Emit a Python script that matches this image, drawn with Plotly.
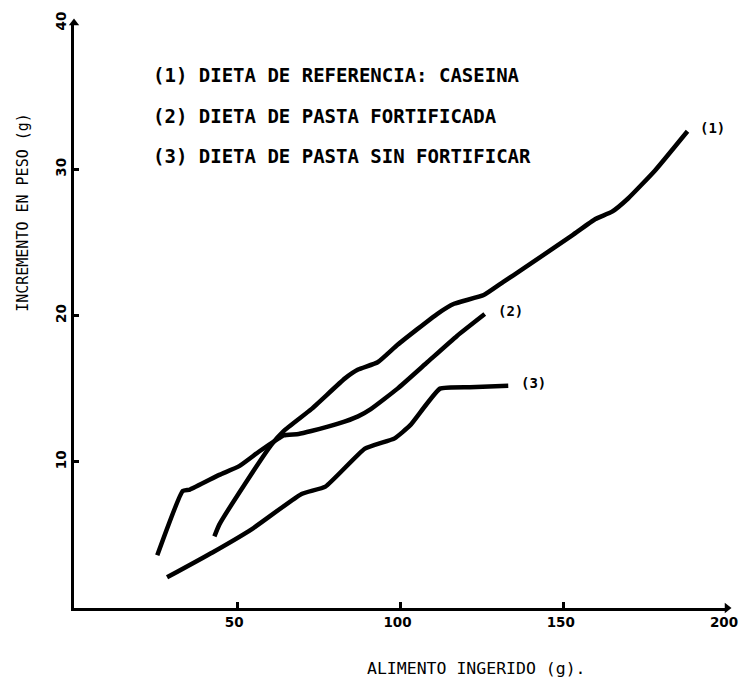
import plotly.graph_objects as go

# Series A: starts low-left with kink, shallow branch ending at label (2)
xa = [25.5, 33.3, 35.5, 44.5, 50.6, 56.7, 62.7, 64.2, 68.8, 72.7, 80.9, 87.0, 90.9, 99.1, 108.2, 117.3, 125.8]
ya = [3.6, 8.0, 8.1, 9.1, 9.7, 10.7, 11.6, 11.8, 11.9, 12.1, 12.6, 13.1, 13.6, 15.0, 16.8, 18.6, 20.1]
# Series B: steep start, upper branch ending at label (1)
xb = [43.0, 44.5, 52.7, 60.6, 64.2, 72.7, 83.0, 87.0, 93.0, 99.1, 111.2, 116.4, 125.5, 131.5, 137.6, 145.5,
      152.7, 159.7, 164.8, 169.7, 177.9, 187.9]
yb = [4.9, 5.7, 8.6, 11.2, 12.1, 13.6, 15.7, 16.3, 16.8, 18.0, 20.1, 20.8, 21.4, 22.3, 23.2, 24.4,
      25.5, 26.6, 27.1, 28.0, 29.9, 32.6]
# Series 3: pasta sin fortificar
x3 = [28.5, 42.4, 54.5, 69.7, 77.0, 89.1, 98.2, 103.0, 112.1, 121.2, 133.0]
y3 = [2.1, 3.8, 5.4, 7.8, 8.3, 10.9, 11.6, 12.5, 15.0, 15.1, 15.2]

legend_lines = ["(1) DIETA DE REFERENCIA: CASEINA",
                "(2) DIETA DE PASTA FORTIFICADA",
                "(3) DIETA DE PASTA SIN FORTIFICAR"]
x_ticks = [50, 100, 150, 200]
y_ticks = [10, 20, 30, 40]

MONO = "DejaVu Sans Mono"
SANS = "DejaVu Sans"
fig = go.Figure()
for xs, ys in [(xa, ya), (xb, yb), (x3, y3)]:
    fig.add_trace(go.Scatter(x=xs, y=ys, mode="lines",
                             line=dict(color="black", width=4.5, shape="spline", smoothing=0.4),
                             showlegend=False, hoverinfo="skip"))

# axis arrow heads
fig.add_trace(go.Scatter(x=[200], y=[0], mode="markers", marker=dict(symbol="triangle-right", size=9, color="black"),
                         cliponaxis=False, showlegend=False, hoverinfo="skip"))
fig.add_trace(go.Scatter(x=[0], y=[40], mode="markers", marker=dict(symbol="triangle-up", size=9, color="black"),
                         cliponaxis=False, showlegend=False, hoverinfo="skip"))

# end labels
end_labels = [("(1)", xb[-1], yb[-1]), ("(2)", xa[-1], ya[-1]), ("(3)", x3[-1], y3[-1])]
for t, x, y in end_labels:
    fig.add_annotation(x=x, y=y, text="<b>%s</b>" % t, showarrow=False, xanchor="left", yanchor="middle",
                       xshift=11, yshift=3, font=dict(family=MONO, size=14, color="black"))

for i, t in enumerate(legend_lines):
    fig.add_annotation(xref="paper", yref="paper", x=(151 - 73) / 660, y=(606 - (74 + 40.5 * i)) / 584,
                       text="<b>%s</b>" % t, showarrow=False, xanchor="left", yanchor="middle",
                       font=dict(family=MONO, size=19, color="black"))

fig.add_annotation(xref="paper", yref="paper", x=(480 - 73) / 660, y=(606 - 666) / 584,
                   text="ALIMENTO INGERIDO (g).", showarrow=False, xanchor="center", yanchor="middle",
                   font=dict(family=MONO, size=16.5, color="black"))
fig.add_annotation(xref="paper", yref="paper", x=(22 - 73) / 660, y=(606 - 211) / 584,
                   text="INCREMENTO EN PESO (g)", showarrow=False, textangle=-90, xanchor="center",
                   yanchor="middle", font=dict(family=MONO, size=15, color="black"))

fig.update_layout(
    width=750, height=680, paper_bgcolor="white", plot_bgcolor="white",
    margin=dict(l=74, r=16, t=22, b=72),
    xaxis=dict(range=[0, 200], tickvals=x_ticks, ticktext=["<b>%d</b>" % v for v in x_ticks],
               showgrid=False, zeroline=False, showline=True, linecolor="black", linewidth=3,
               ticks="inside", ticklen=6, tickwidth=3, tickcolor="black", ticklabelshift=-3,
               tickfont=dict(family=SANS, size=13.5, color="black")),
    yaxis=dict(range=[0, 40], tickvals=y_ticks, ticktext=["<b>%d</b>" % v for v in y_ticks],
               showgrid=False, zeroline=False, showline=True, linecolor="black", linewidth=3,
               ticks="inside", ticklen=5, tickwidth=3, tickcolor="black", tickangle=-90,
               tickfont=dict(family=SANS, size=13.5, color="black")),
)
fig.write_html("out.html", config={"displayModeBar": False},
               post_script="document.body.style.margin='0';")
